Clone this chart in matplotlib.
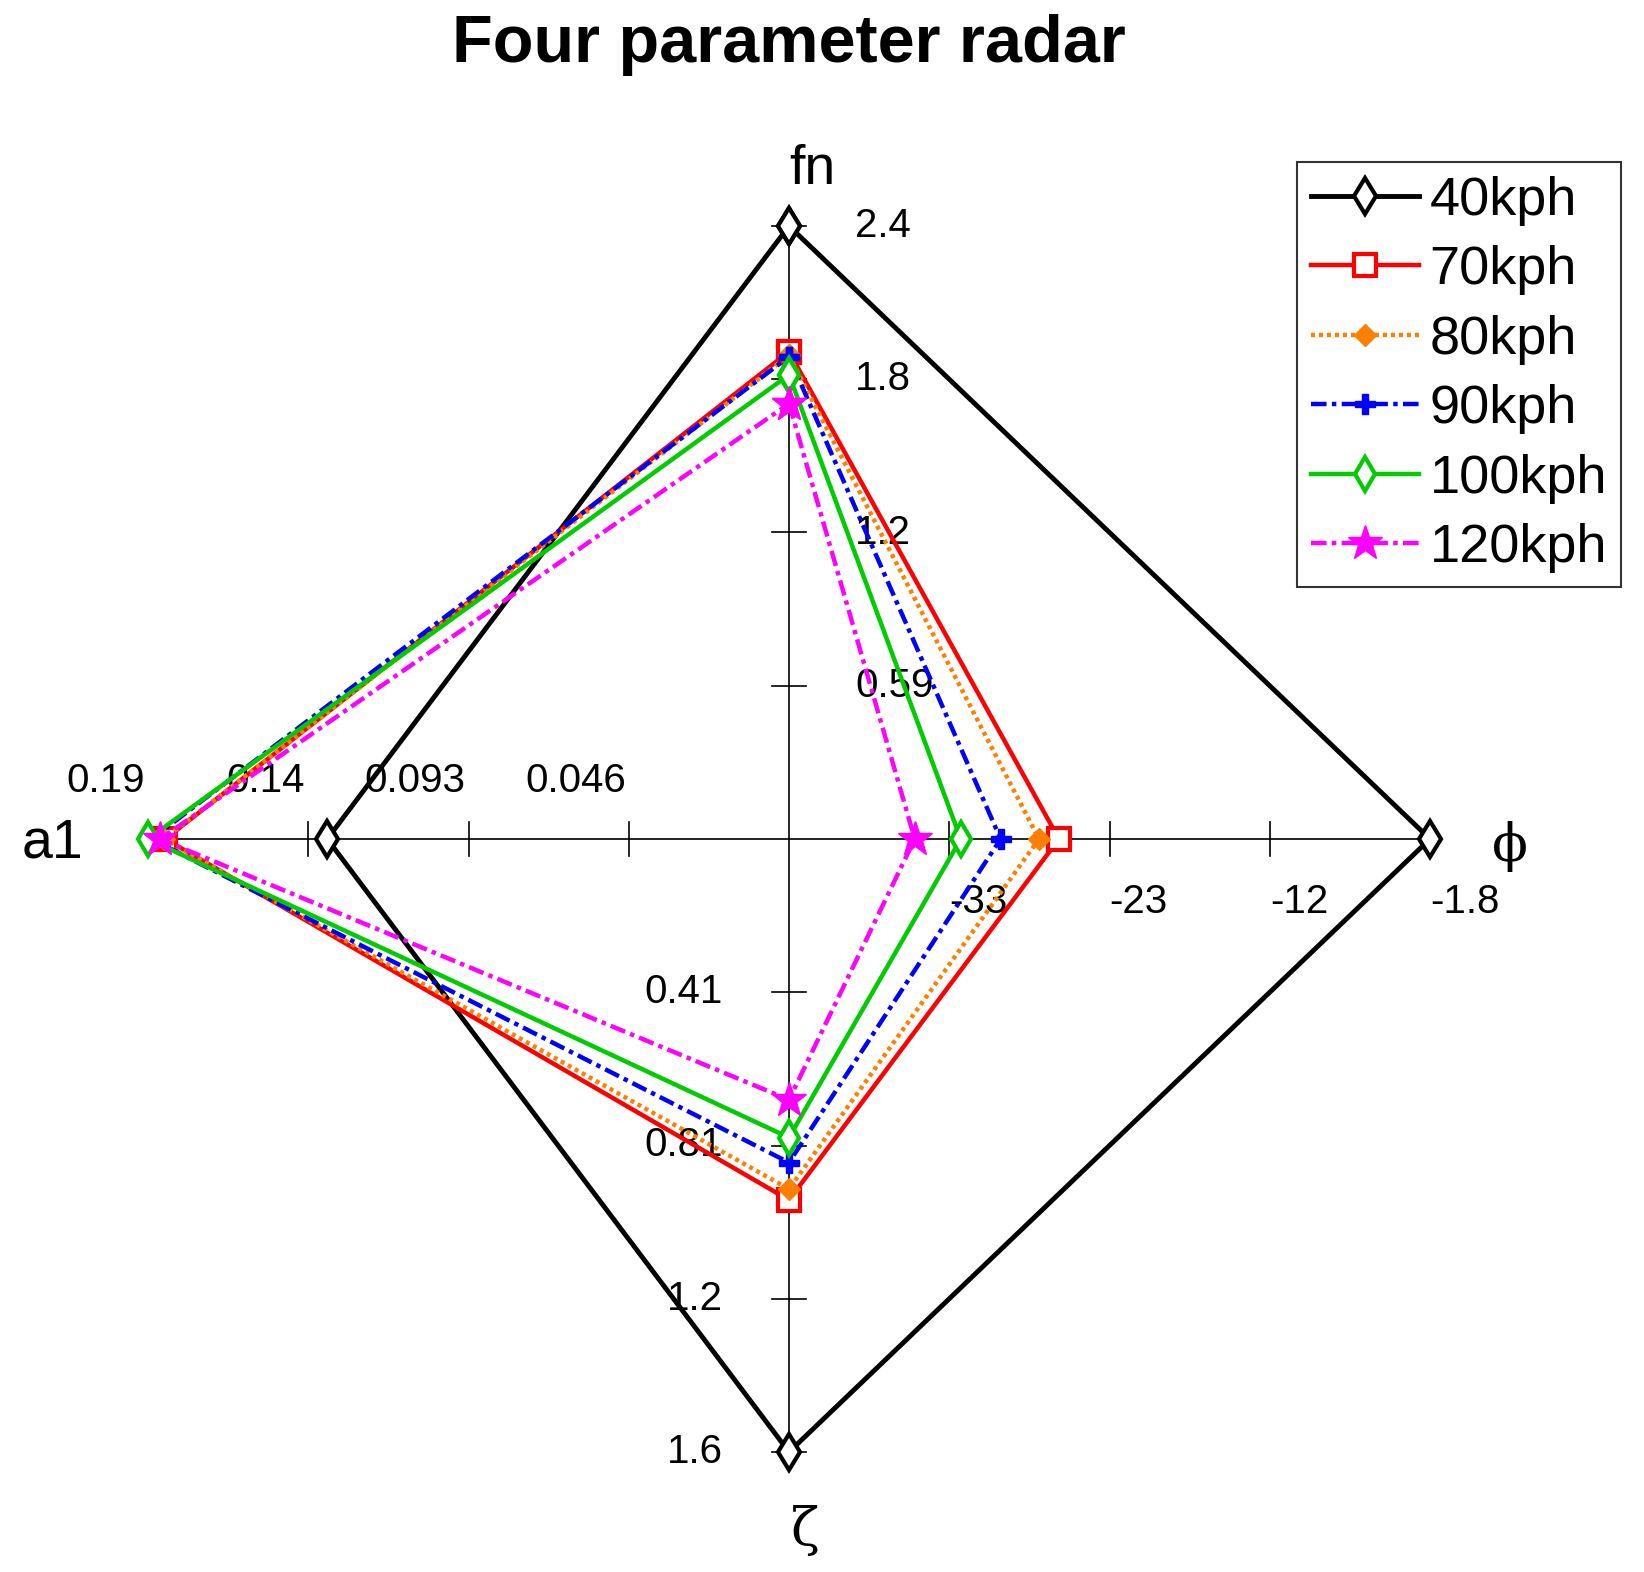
import matplotlib
matplotlib.use("Agg")
import matplotlib.pyplot as plt
import numpy as np

plt.rcParams['font.family'] = ['Liberation Sans', 'DejaVu Sans']

# ---- data ----
series_names = ["40kph", "70kph", "80kph", "90kph", "100kph", "120kph"]
axis_names = ["fn", "ϕ", "ζ", "a1"]
fn_vals = [2.36, 1.876, 1.862, 1.857, 1.787, 1.676]
phi_vals = [-1.8, -26.0, -27.3, -29.8, -32.4, -35.4]
zeta_vals = [1.62, 0.954, 0.925, 0.855, 0.789, 0.689]
a1_vals = [0.134, 0.181, 0.1814, 0.185, 0.186, 0.1825]

fn_range = (0.0, 2.36)
phi_range = (-43.6, -1.8)
zeta_range = (0.0, 1.62)
a1_range = (0.0, 0.186)

fn_ticks = ["0.59", "1.2", "1.8", "2.4"]
phi_ticks = ["-33", "-23", "-12", "-1.8"]
zeta_ticks = ["0.41", "0.81", "1.2", "1.6"]
a1_ticks = ["0.046", "0.093", "0.14", "0.19"]

# ---- styles ----
colors = ["#000000", "#FF0000", "#FF8000", "#0000FF", "#00CC00", "#FF00FF"]
linestyles = ["-", "-", (0, (0.9, 0.9)), (0, (3.5, 1.2, 1.0, 1.2)), "-", (0, (3.5, 1.2, 1.0, 1.2))]
markers = ["d", "s", "D", "P", "d", "*"]
msizes = [18, 16, 11, 15, 17, 26]
mfcs = ["white", "white", "#FF8000", "#0000FF", "white", "#FF00FF"]
mews = [3, 3, 1, 1, 3, 1]
lws = [3.5, 3.2, 3.2, 3.2, 3.2, 3.2]

PX_X = 641.0
PX_Y = 613.0

fig = plt.figure(figsize=(16.44, 15.72), dpi=100)
ax = fig.add_axes([0, 0, 1, 1])
ax.set_xlim(-789 / PX_X, (1644 - 789) / PX_X)
ax.set_ylim(-(1572 - 839) / PX_Y, 839 / PX_Y)
ax.axis('off')


def norm(v, rng):
    return (np.asarray(v, dtype=float) - rng[0]) / (rng[1] - rng[0])


# axes lines
ax.plot([0, 0], [-1, 1], color='black', lw=1.2, zorder=1)
ax.plot([-1, 1], [0, 0], color='black', lw=1.2, zorder=1)
tl_x = 17 / PX_X
tl_y = 17 / PX_Y
for k in range(1, 5):
    r = k / 4
    ax.plot([-tl_x, tl_x], [r, r], color='black', lw=1.2, zorder=1)
    ax.plot([-tl_x, tl_x], [-r, -r], color='black', lw=1.2, zorder=1)
    ax.plot([r, r], [-tl_y, tl_y], color='black', lw=1.2, zorder=1)
    ax.plot([-r, -r], [-tl_y, tl_y], color='black', lw=1.2, zorder=1)

fs_tick = 29
for k in range(4):
    r = (k + 1) / 4
    ax.text(66 / PX_X, r, fn_ticks[k], ha='left', va='center', fontsize=fs_tick)
    ax.text(r, -63 / PX_Y, phi_ticks[k], ha='left', va='center', fontsize=fs_tick)
    ax.text(-66 / PX_X, -r, zeta_ticks[k], ha='right', va='center', fontsize=fs_tick)
    ax.text(-r - 3 / PX_X, 58 / PX_Y, a1_ticks[k], ha='right', va='center', fontsize=fs_tick)

# axis names
ax.text(23 / PX_X, (839 - 170) / PX_Y, axis_names[0], ha='center', va='center', fontsize=40)
ax.text((1510 - 789) / PX_X, (839 - 847) / PX_Y, axis_names[1], ha='center', va='center',
        fontsize=38, family=['DejaVu Serif'])
ax.text((805 - 789) / PX_X, (839 - 1531) / PX_Y, axis_names[2], ha='center', va='center',
        fontsize=38, family=['DejaVu Serif'])
ax.text((52 - 789) / PX_X, (839 - 844) / PX_Y, axis_names[3], ha='center', va='center', fontsize=40)

rf = norm(fn_vals, fn_range)
rp = norm(phi_vals, phi_range)
rz = norm(zeta_vals, zeta_range)
ra = norm(a1_vals, a1_range)

for i, name in enumerate(series_names):
    xs = [0, rp[i], 0, -ra[i], 0]
    ys = [rf[i], 0, -rz[i], 0, rf[i]]
    ax.plot(xs, ys, color=colors[i], ls=linestyles[i], lw=lws[i], marker=markers[i],
            ms=msizes[i], mfc=mfcs[i], mec=colors[i], mew=mews[i], label=name,
            zorder=3 + i, solid_joinstyle='miter', dash_capstyle='butt')

leg = ax.legend(loc='upper left', bbox_to_anchor=(1297 / 1644, 1 - 162 / 1572),
                bbox_transform=fig.transFigure, fontsize=39, frameon=True, fancybox=False,
                edgecolor='black', handlelength=2.0, handletextpad=0.2, labelspacing=0.36,
                borderpad=0.25, borderaxespad=0, markerscale=1.0)
leg.get_frame().set_linewidth(1.5)

fig.text(789 / 1644, 1 - 45 / 1572, "Four parameter radar", ha='center', va='center',
         fontsize=48, fontweight='bold')

fig.savefig("out.png", dpi=100, facecolor='white')
